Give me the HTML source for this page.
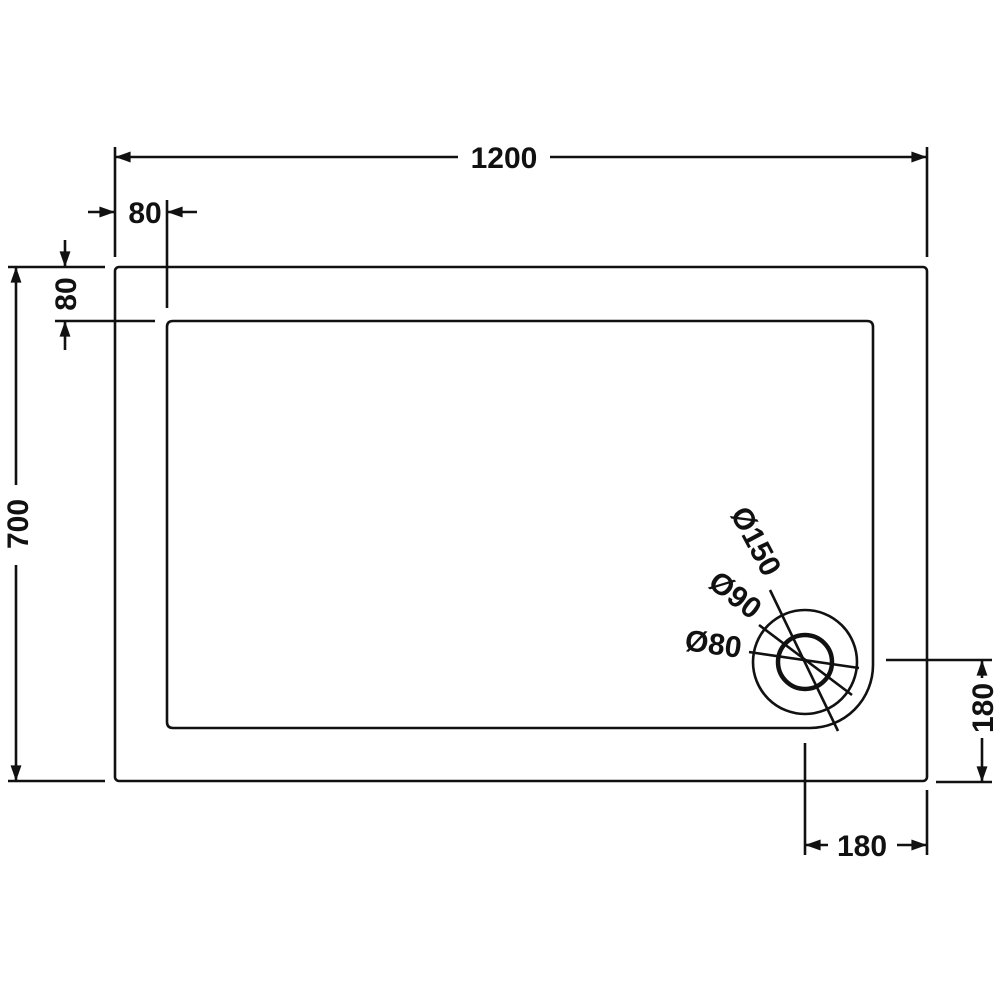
<!DOCTYPE html>
<html><head><meta charset="utf-8"><style>body{margin:0;background:#fff}</style></head><body>
<svg width="1000" height="1000" viewBox="0 0 1000 1000" xmlns="http://www.w3.org/2000/svg">
<defs>
<marker id="a" viewBox="0 0 10 10" refX="10" refY="5" markerWidth="8" markerHeight="6" orient="auto-start-reverse"><path d="M0,1.5 L10,5 L0,8.5 z" fill="#111"/></marker>
</defs>
<g fill="none" stroke="#111" stroke-width="2.6">
<rect x="115" y="267" width="812" height="514" rx="4"/>
<path d="M173,321 H867 Q873,321 873,327 V665 A63,63 0 0 1 810,728 H173 Q167,728 167,722 V327 Q167,321 173,321 Z"/>
<circle cx="805" cy="662" r="52"/>
<circle cx="805" cy="662" r="27" stroke-width="4.5"/>
<line x1="770" y1="590" x2="838" y2="731"/>
<line x1="759" y1="625" x2="852" y2="695"/>
<line x1="749" y1="652" x2="859" y2="668"/>
<line x1="115" y1="147" x2="115" y2="257"/>
<line x1="927" y1="147" x2="927" y2="257"/>
<line x1="115" y1="157" x2="458" y2="157" marker-start="url(#a)"/>
<line x1="550" y1="157" x2="927" y2="157" marker-end="url(#a)"/>
<line x1="88" y1="212" x2="115" y2="212" marker-end="url(#a)"/>
<line x1="197" y1="212" x2="167" y2="212" marker-end="url(#a)"/>
<line x1="167" y1="200" x2="167" y2="308"/>
<line x1="8" y1="267" x2="105" y2="267"/>
<line x1="55" y1="321" x2="155" y2="321"/>
<line x1="65" y1="240" x2="65" y2="267" marker-end="url(#a)"/>
<line x1="65" y1="350" x2="65" y2="321" marker-end="url(#a)"/>
<line x1="8" y1="781" x2="105" y2="781"/>
<line x1="16" y1="267" x2="16" y2="485" marker-start="url(#a)"/>
<line x1="16" y1="565" x2="16" y2="781" marker-end="url(#a)"/>
<line x1="886" y1="660" x2="992" y2="660"/>
<line x1="936" y1="782" x2="992" y2="782"/>
<line x1="982" y1="660" x2="982" y2="678" marker-start="url(#a)"/>
<line x1="982" y1="738" x2="982" y2="782" marker-end="url(#a)"/>
<line x1="805" y1="743" x2="805" y2="855"/>
<line x1="927" y1="790" x2="927" y2="855"/>
<line x1="805" y1="845" x2="828" y2="845" marker-start="url(#a)"/>
<line x1="897" y1="845" x2="927" y2="845" marker-end="url(#a)"/>
</g>
<g font-family="Liberation Sans, sans-serif" font-weight="bold" font-size="30" fill="#111" text-anchor="middle">
<text x="504" y="168">1200</text>
<text x="145" y="223">80</text>
<text transform="translate(76,294) rotate(-90)">80</text>
<text transform="translate(28,524) rotate(-90)">700</text>
<text transform="translate(993,708) rotate(-90)">180</text>
<text x="862" y="856">180</text>
<text transform="translate(747,546) rotate(62)">Ø150</text>
<text transform="translate(729,603) rotate(38)">Ø90</text>
<text transform="translate(712,654) rotate(8)">Ø80</text>
</g>
</svg>
</body></html>
